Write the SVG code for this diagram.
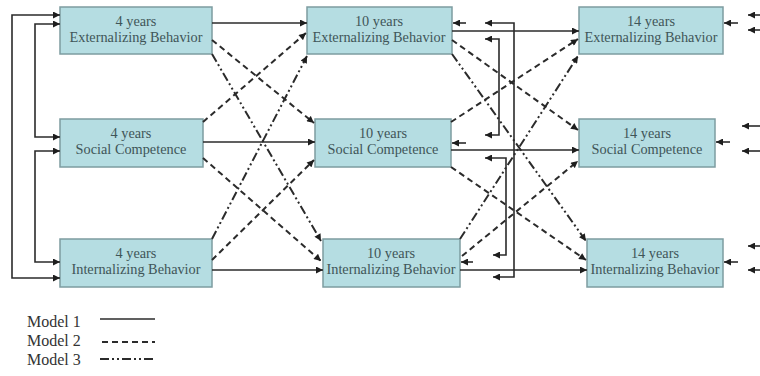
<svg xmlns="http://www.w3.org/2000/svg" width="760" height="376" viewBox="0 0 760 376">
<style>
.box{fill:#b5dde2;stroke:#7d9ca0;stroke-width:1.5}
.lbl{font-family:"Liberation Serif","Times New Roman",serif;font-size:14.3px;fill:#3f5558;text-anchor:middle}
.leg{font-family:"Liberation Serif","Times New Roman",serif;font-size:16px;fill:#333}
.c{fill:none;stroke:#2b2b2b;stroke-width:1.6}
.s{marker-end:url(#ah)}
.b{marker-start:url(#ah);marker-end:url(#ah)}
.d{stroke-width:2;stroke-dasharray:6 4}
.dd{stroke-width:2;stroke-dasharray:9 3 2 3 2 3}
</style>
<defs>
<marker id="ah" viewBox="0 0 10 10" refX="10" refY="5" markerWidth="8" markerHeight="7" markerUnits="userSpaceOnUse" orient="auto-start-reverse">
<path d="M0,0 L10,5 L0,10 z" fill="#1e1e1e"/>
</marker>
</defs>
<rect width="760" height="376" fill="#fff"/>

<g id="n4ext"><rect class="box" x="60" y="7" width="152" height="47"/><text class="lbl" x="136" y="26">4 years</text><text class="lbl" x="136" y="42">Externalizing Behavior</text></g>
<g id="n4soc"><rect class="box" x="60" y="119" width="143" height="48"/><text class="lbl" x="131" y="138">4 years</text><text class="lbl" x="131" y="154">Social Competence</text></g>
<g id="n4int"><rect class="box" x="60" y="239" width="152" height="48"/><text class="lbl" x="136" y="258">4 years</text><text class="lbl" x="136" y="274">Internalizing Behavior</text></g>

<g id="n10ext"><rect class="box" x="307" y="7" width="145" height="47"/><text class="lbl" x="379" y="26">10 years</text><text class="lbl" x="379" y="42">Externalizing Behavior</text></g>
<g id="n10soc"><rect class="box" x="315" y="119" width="136" height="48"/><text class="lbl" x="383" y="138">10 years</text><text class="lbl" x="383" y="154">Social Competence</text></g>
<g id="n10int"><rect class="box" x="323" y="239" width="137" height="48"/><text class="lbl" x="391" y="258">10 years</text><text class="lbl" x="391" y="274">Internalizing Behavior</text></g>

<g id="n14ext"><rect class="box" x="579" y="7" width="144" height="47"/><text class="lbl" x="651" y="26">14 years</text><text class="lbl" x="651" y="42">Externalizing Behavior</text></g>
<g id="n14soc"><rect class="box" x="579" y="119" width="136" height="48"/><text class="lbl" x="647" y="138">14 years</text><text class="lbl" x="647" y="154">Social Competence</text></g>
<g id="n14int"><rect class="box" x="587" y="239" width="136" height="48"/><text class="lbl" x="655" y="258">14 years</text><text class="lbl" x="655" y="274">Internalizing Behavior</text></g>

<g id="connectors">
<path class="c b" d="M60,15 H12 V278 H60"/>
<path class="c b" d="M60,24 H35 V137 H60"/>
<path class="c b" d="M60,151 H35 V262 H60"/>
<path class="c b" d="M485,39 H499 V135 H485"/>
<path class="c b" d="M485,23 H514 V277 H493"/>
<path class="c b" d="M485,158 H506 V255 H493"/>
<path class="c s" d="M466,23 H453"/>
<path class="c s" d="M466,143 H452"/>
<path class="c s" d="M473,262 H461"/>
<path class="c s" d="M738,23 H724"/>
<path class="c s" d="M730,142 H716"/>
<path class="c s" d="M738,262 H724"/>
<path class="c s" d="M762,15 H748"/>
<path class="c s" d="M762,30 H748"/>
<path class="c s" d="M762,126 H742"/>
<path class="c s" d="M762,151 H742"/>
<path class="c s" d="M762,246 H748"/>
<path class="c s" d="M762,270 H748"/>
<path class="c s" d="M212,23 H307"/>
<path class="c s" d="M203,142 H315"/>
<path class="c s" d="M212,270 H323"/>
<path class="c s" d="M452,31 H579"/>
<path class="c s" d="M451,150 H579"/>
<path class="c s" d="M460,270 H587"/>
<path class="c d s" d="M212,40 L314,123"/>
<path class="c d s" d="M203,122 L306,33"/>
<path class="c d s" d="M203,158 L321,261"/>
<path class="c d s" d="M212,260 L314,160"/>
<path class="c d s" d="M452,40 L578,130"/>
<path class="c d s" d="M451,122 L578,39"/>
<path class="c d s" d="M451,167 L586,260"/>
<path class="c d s" d="M462,256 L578,161"/>
<path class="c dd s" d="M212,54 L321,241"/>
<path class="c dd s" d="M212,239 L307,56"/>
<path class="c dd s" d="M452,54 L586,241"/>
<path class="c dd s" d="M460,239 L578,56"/>
</g>

<g id="legend">
<text class="leg" x="27" y="327">Model 1</text>
<text class="leg" x="27" y="346">Model 2</text>
<text class="leg" x="27" y="365">Model 3</text>
<path class="c" d="M100,319 H155" stroke-width="2.2"/>
<path class="c d" d="M102,342 H155"/>
<path class="c dd" d="M100,359 H155"/>
</g>
</svg>
